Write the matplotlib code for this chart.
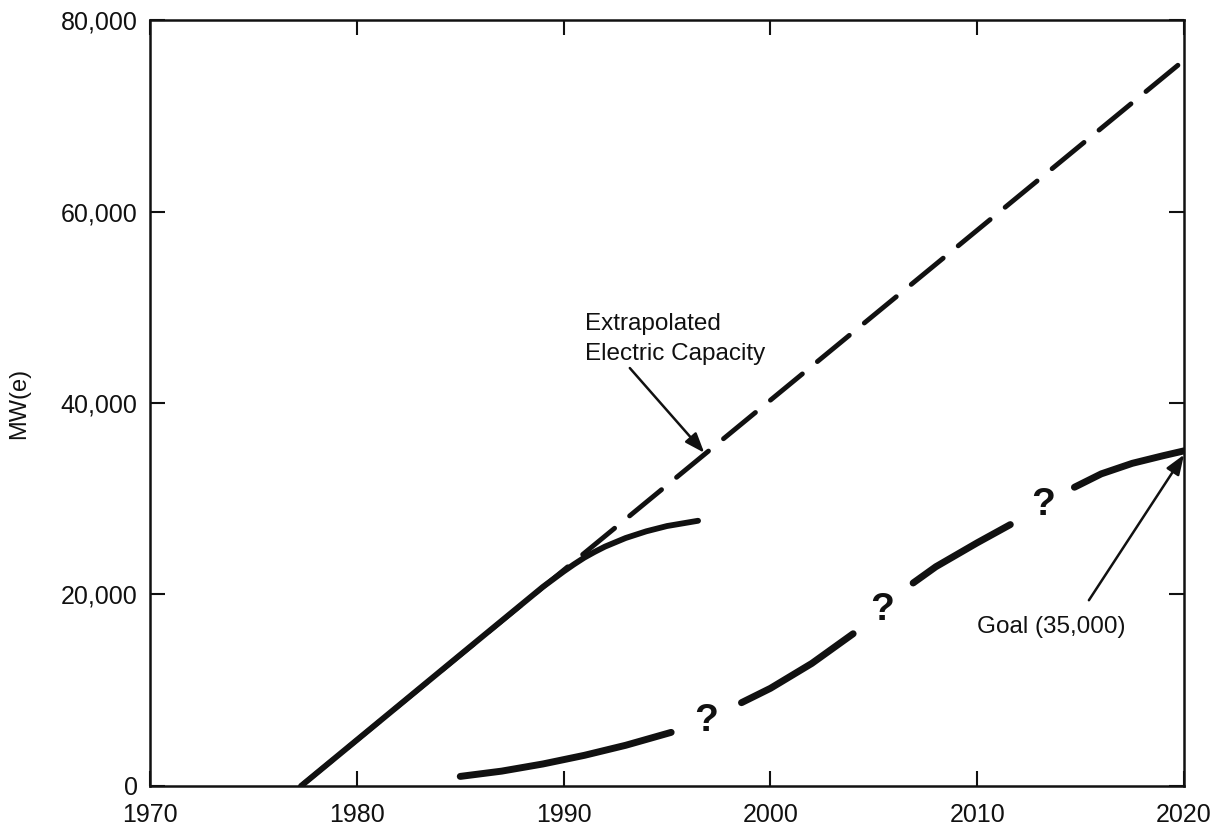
import numpy as np
import matplotlib
matplotlib.use("Agg")
from matplotlib import pyplot as plt
from matplotlib.ticker import FuncFormatter

plt.rcParams['font.family'] = ['Liberation Sans', 'DejaVu Sans']

# extrapolated electric capacity (straight dashed line)
extrap_years = [1977.3, 2020]
extrap_mw = [0, 75800]

# installed capacity (solid curve)
actual_years = [1977.3, 1980, 1985, 1989, 1990, 1990.5, 1991, 1991.5, 1992,
                1993, 1994, 1995, 1996.5]
actual_mw = [0, 4800, 13700, 20800, 22400, 23150, 23850, 24450, 25000,
             25900, 26600, 27150, 27700]

# goal path, broken where the question marks sit
goal_segments = [
    ([1985, 1987, 1989, 1991, 1993, 1995.2],
     [1000, 1550, 2300, 3200, 4250, 5600]),
    ([1998.6, 2000, 2002, 2004],
     [8700, 10200, 12800, 15900]),
    ([2006.9, 2008, 2010, 2011.6],
     [21200, 22900, 25400, 27300]),
    ([2014.7, 2016, 2017.5, 2019, 2020],
     [31200, 32600, 33700, 34500, 35000]),
]
q_years = [1996.9, 2005.4, 2013.2]
q_mw = [6800, 18400, 29300]

xticks = [1970, 1980, 1990, 2000, 2010, 2020]
yticks = [0, 20000, 40000, 60000, 80000]

ink = '#111111'

fig = plt.figure(figsize=(12.16, 8.27), dpi=100)
ax = fig.add_axes([0.1234, 0.0496, 0.8503, 0.9262])

ax.plot(extrap_years, extrap_mw, color=ink, lw=3.5, linestyle=(0, (8.5, 4)),
        solid_capstyle='round', dash_capstyle='round')
ax.plot(actual_years, actual_mw, color=ink, lw=4.2, solid_capstyle='round',
        solid_joinstyle='round')
for yrs, vals in goal_segments:
    ax.plot(yrs, vals, color=ink, lw=5, solid_capstyle='round',
            solid_joinstyle='round')
for x, y in zip(q_years, q_mw):
    ax.text(x, y, '?', fontsize=28, fontweight='bold', color=ink,
            ha='center', va='center')

ax.text(1991.05, 46700, 'Extrapolated\nElectric Capacity', fontsize=17.5,
        ha='left', va='center', linespacing=1.45, color=ink)
ax.annotate('', xy=(1996.8, 34800), xytext=(1993.2, 43650),
            arrowprops=dict(arrowstyle='-|>,head_length=1.2,head_width=0.45',
                            color=ink, lw=1.8, shrinkA=0, shrinkB=0))

ax.text(2010.0, 16600, 'Goal (35,000)', fontsize=17.5, ha='left', va='center',
        color=ink)
ax.annotate('', xy=(2020, 34600), xytext=(2015.4, 19400),
            arrowprops=dict(arrowstyle='-|>,head_length=1.2,head_width=0.45',
                            color=ink, lw=1.8, shrinkA=0, shrinkB=0))

ax.set_xlim(1970, 2020)
ax.set_ylim(0, 80000)
ax.set_xticks(xticks)
ax.set_yticks(yticks)
ax.yaxis.set_major_formatter(FuncFormatter(lambda v, p: f'{int(v):,}'))
ax.tick_params(direction='in', length=11, width=1.5, top=True, right=True,
               labelsize=18, colors=ink)
ax.tick_params(axis='x', pad=12)
ax.tick_params(axis='y', pad=9)
for s in ax.spines.values():
    s.set_linewidth(1.8)
    s.set_color(ink)

ax.set_ylabel('MW(e)', fontsize=17, color=ink, labelpad=22)

fig.savefig('out.png', dpi=100)
